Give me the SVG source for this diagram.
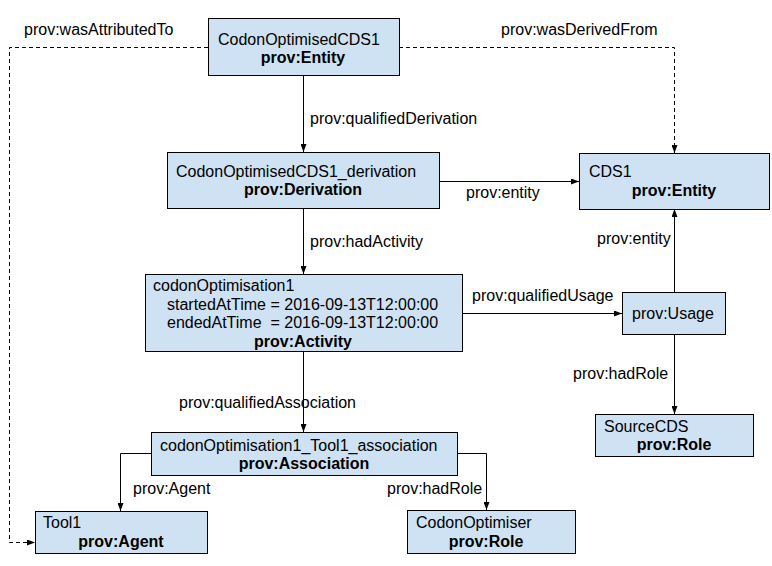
<svg xmlns="http://www.w3.org/2000/svg" width="772" height="566" viewBox="0 0 772 566">
<defs>
<marker id="arr" viewBox="0 0 8 6" refX="8" refY="3" markerWidth="8" markerHeight="6" markerUnits="userSpaceOnUse" orient="auto"><path d="M0,0 L8,3 L0,6 z" fill="#000"/></marker>
</defs>
<style>
.box{fill:#cfe2f3;stroke:#000;stroke-width:1}
text{font-family:"Liberation Sans",Arial,sans-serif;font-size:16px;fill:#000}
.b{font-weight:bold;text-anchor:middle}
.c{fill:none;stroke:#000;stroke-width:1;marker-end:url(#arr)}
.d{stroke-dasharray:4 3}
</style>
<rect width="772" height="566" fill="#fff"/>
<g id="connectors">
<path class="c" d="M303.5,75 V152"/>
<path class="c" d="M303.5,208 V274"/>
<path class="c" d="M303.5,351 V432"/>
<path class="c" d="M439,181.5 H579"/>
<path class="c" d="M462,313.5 H622"/>
<path class="c" d="M674.5,292 V209"/>
<path class="c" d="M674.5,334 V414"/>
<path class="c" d="M151,453.5 H120.5 V511"/>
<path class="c" d="M457,453.5 H486.5 V510"/>
<path class="c d" d="M208,47.5 H9.5 V542.5 H35"/>
<path class="c d" d="M399,47.5 H674.5 V153"/>
<text x="24" y="35">prov:wasAttributedTo</text>
<text x="501" y="35">prov:wasDerivedFrom</text>
<text x="310" y="124">prov:qualifiedDerivation</text>
<text x="466" y="198">prov:entity</text>
<text x="310" y="247">prov:hadActivity</text>
<text x="597" y="244">prov:entity</text>
<text x="472" y="301">prov:qualifiedUsage</text>
<text x="573" y="379">prov:hadRole</text>
<text x="179" y="408">prov:qualifiedAssociation</text>
<text x="133" y="494">prov:Agent</text>
<text x="387" y="494">prov:hadRole</text>
</g>
<g id="CodonOptimisedCDS1">
<rect class="box" x="208.5" y="18.5" width="191" height="57"/>
<text x="218" y="45">CodonOptimisedCDS1</text>
<text class="b" x="303" y="63">prov:Entity</text>
</g>
<g id="CodonOptimisedCDS1_derivation">
<rect class="box" x="167.5" y="152.5" width="272" height="56"/>
<text x="176" y="177">CodonOptimisedCDS1_derivation</text>
<text class="b" x="303" y="195">prov:Derivation</text>
</g>
<g id="CDS1">
<rect class="box" x="579.5" y="153.5" width="190" height="56"/>
<text x="589" y="177">CDS1</text>
<text class="b" x="674" y="196">prov:Entity</text>
</g>
<g id="codonOptimisation1">
<rect class="box" x="145.5" y="274.5" width="317" height="77"/>
<text x="153" y="291">codonOptimisation1</text>
<text x="167" y="309.5" xml:space="preserve">startedAtTime = 2016-09-13T12:00:00</text>
<text x="167" y="328" xml:space="preserve">endedAtTime  = 2016-09-13T12:00:00</text>
<text class="b" x="303" y="346.5">prov:Activity</text>
</g>
<g id="Usage">
<rect class="box" x="622.5" y="292.5" width="103" height="42"/>
<text x="632" y="319">prov:Usage</text>
</g>
<g id="SourceCDS">
<rect class="box" x="595.5" y="414.5" width="158" height="42"/>
<text x="604" y="432">SourceCDS</text>
<text class="b" x="674" y="450">prov:Role</text>
</g>
<g id="Association">
<rect class="box" x="151.5" y="432.5" width="306" height="43"/>
<text x="160" y="451">codonOptimisation1_Tool1_association</text>
<text class="b" x="304" y="469">prov:Association</text>
</g>
<g id="Tool1">
<rect class="box" x="35.5" y="511.5" width="172" height="42"/>
<text x="43" y="528">Tool1</text>
<text class="b" x="121" y="547">prov:Agent</text>
</g>
<g id="CodonOptimiser">
<rect class="box" x="407.5" y="510.5" width="168" height="43"/>
<text x="416" y="528">CodonOptimiser</text>
<text class="b" x="486" y="547">prov:Role</text>
</g>
</svg>
